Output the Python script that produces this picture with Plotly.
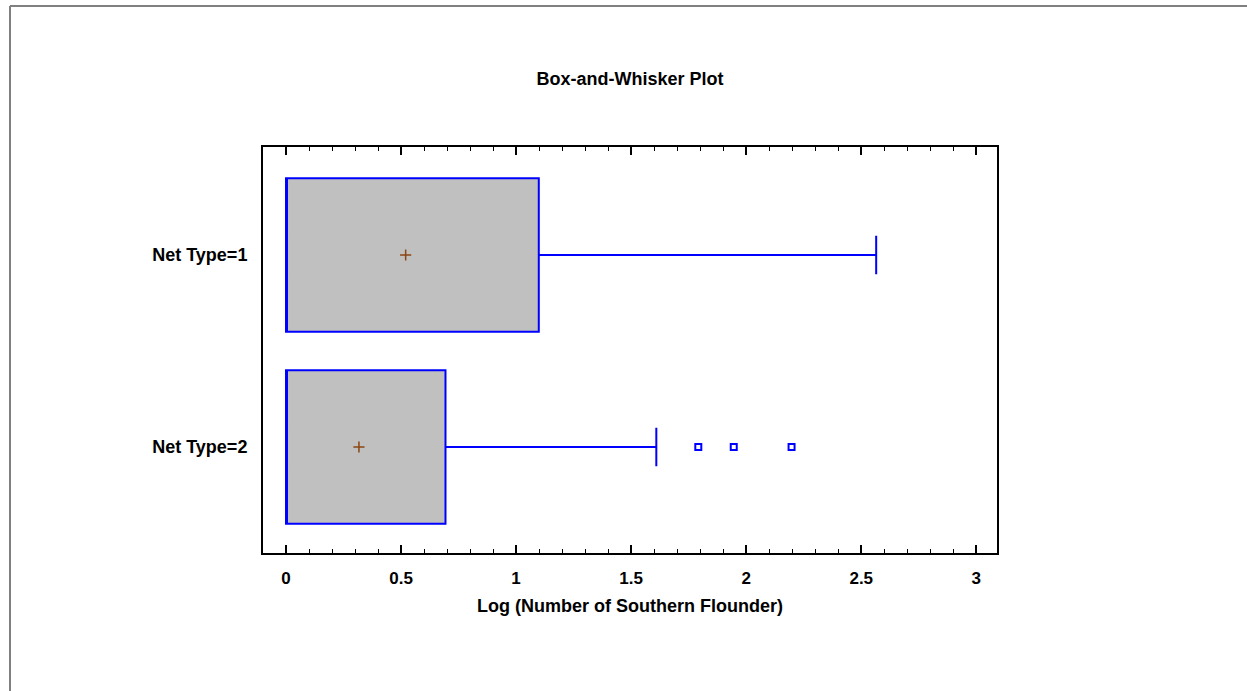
import plotly.graph_objects as go

# ---- data (natural log of counts) ----
groups = ["Net Type=1", "Net Type=2"]
ypos = [1, 0]
q1 = [0.0, 0.0]
median = [0.0, 0.0]
q3 = [1.0986, 0.6931]
lower = [0.0, 0.0]
upper = [2.5649, 1.6094]
means = [0.52, 0.317]
outliers_g2 = [1.7918, 1.9459, 2.1972]
xtick_vals = [0, 0.5, 1, 1.5, 2, 2.5, 3]
xtick_text = ["0", "0.5", "1", "1.5", "2", "2.5", "3"]

W, H = 1247, 691
L, R, T, B = 263, 997, 147, 553

fig = go.Figure()
for i in range(2):
    fig.add_trace(go.Box(
        y=[ypos[i]], q1=[q1[i]], median=[median[i]], q3=[q3[i]],
        lowerfence=[lower[i]], upperfence=[upper[i]],
        orientation="h", width=0.8, whiskerwidth=0.25,
        fillcolor="#C0C0C0", line=dict(color="#0000FF", width=2),
        boxpoints=False, showlegend=False, hoverinfo="skip"))

fig.add_trace(go.Scatter(
    x=outliers_g2, y=[ypos[1]] * len(outliers_g2), mode="markers",
    marker=dict(symbol="square-open", size=6, color="#0000FF", line=dict(width=2)),
    showlegend=False))
fig.add_trace(go.Scatter(
    x=means, y=ypos, mode="markers",
    marker=dict(symbol="cross-thin", size=8, color="#8B4513", line=dict(width=1.5, color="#8B4513")),
    showlegend=False))

def px_x(p):
    return (p - L) / (R - L)

def px_y(p):
    return (B - p) / (B - T)

fig.add_shape(type="line", xref="paper", yref="paper",
              x0=px_x(10), y0=px_y(6), x1=px_x(W + 5), y1=px_y(6),
              line=dict(color="#808080", width=2))
fig.add_shape(type="line", xref="paper", yref="paper",
              x0=px_x(10), y0=px_y(6), x1=px_x(10), y1=px_y(H + 5),
              line=dict(color="#808080", width=2))

font_b = "Liberation Sans"
fig.update_layout(
    width=W, height=H,
    margin=dict(l=L, r=W - R, t=T, b=H - B),
    paper_bgcolor="white", plot_bgcolor="white",
    title=dict(text="<b>Box-and-Whisker Plot</b>", x=0.5, xref="paper",
               y=1 - 79 / H, yanchor="middle",
               font=dict(family=font_b, size=18, color="black")),
    xaxis=dict(range=[-0.1, 3.09], tickvals=xtick_vals,
               ticktext=["<b>" + t + "</b>" for t in xtick_text],
               ticks="inside", ticklen=8, tickwidth=2, tickcolor="black",
               minor=dict(ticks="inside", ticklen=4, tickwidth=1, dtick=0.1, tick0=0, tickcolor="black"),
               showline=True, linecolor="black", linewidth=2, mirror="allticks",
               showgrid=False, zeroline=False,
               tickfont=dict(family=font_b, size=17, color="black"),
               ticklabelstandoff=9,
               title=dict(text="<b>Log (Number of Southern Flounder)</b>",
                          font=dict(family=font_b, size=18, color="black"), standoff=12)),
    yaxis=dict(range=[-0.552, 1.5625], tickvals=ypos,
               ticktext=["<b>" + g + "</b>" for g in groups],
               ticks="", showline=True, linecolor="black", linewidth=2, mirror=True,
               showgrid=False, zeroline=False,
               tickfont=dict(family=font_b, size=18, color="black"),
               ticklabelstandoff=10),
)

fig.write_html("out.html")
